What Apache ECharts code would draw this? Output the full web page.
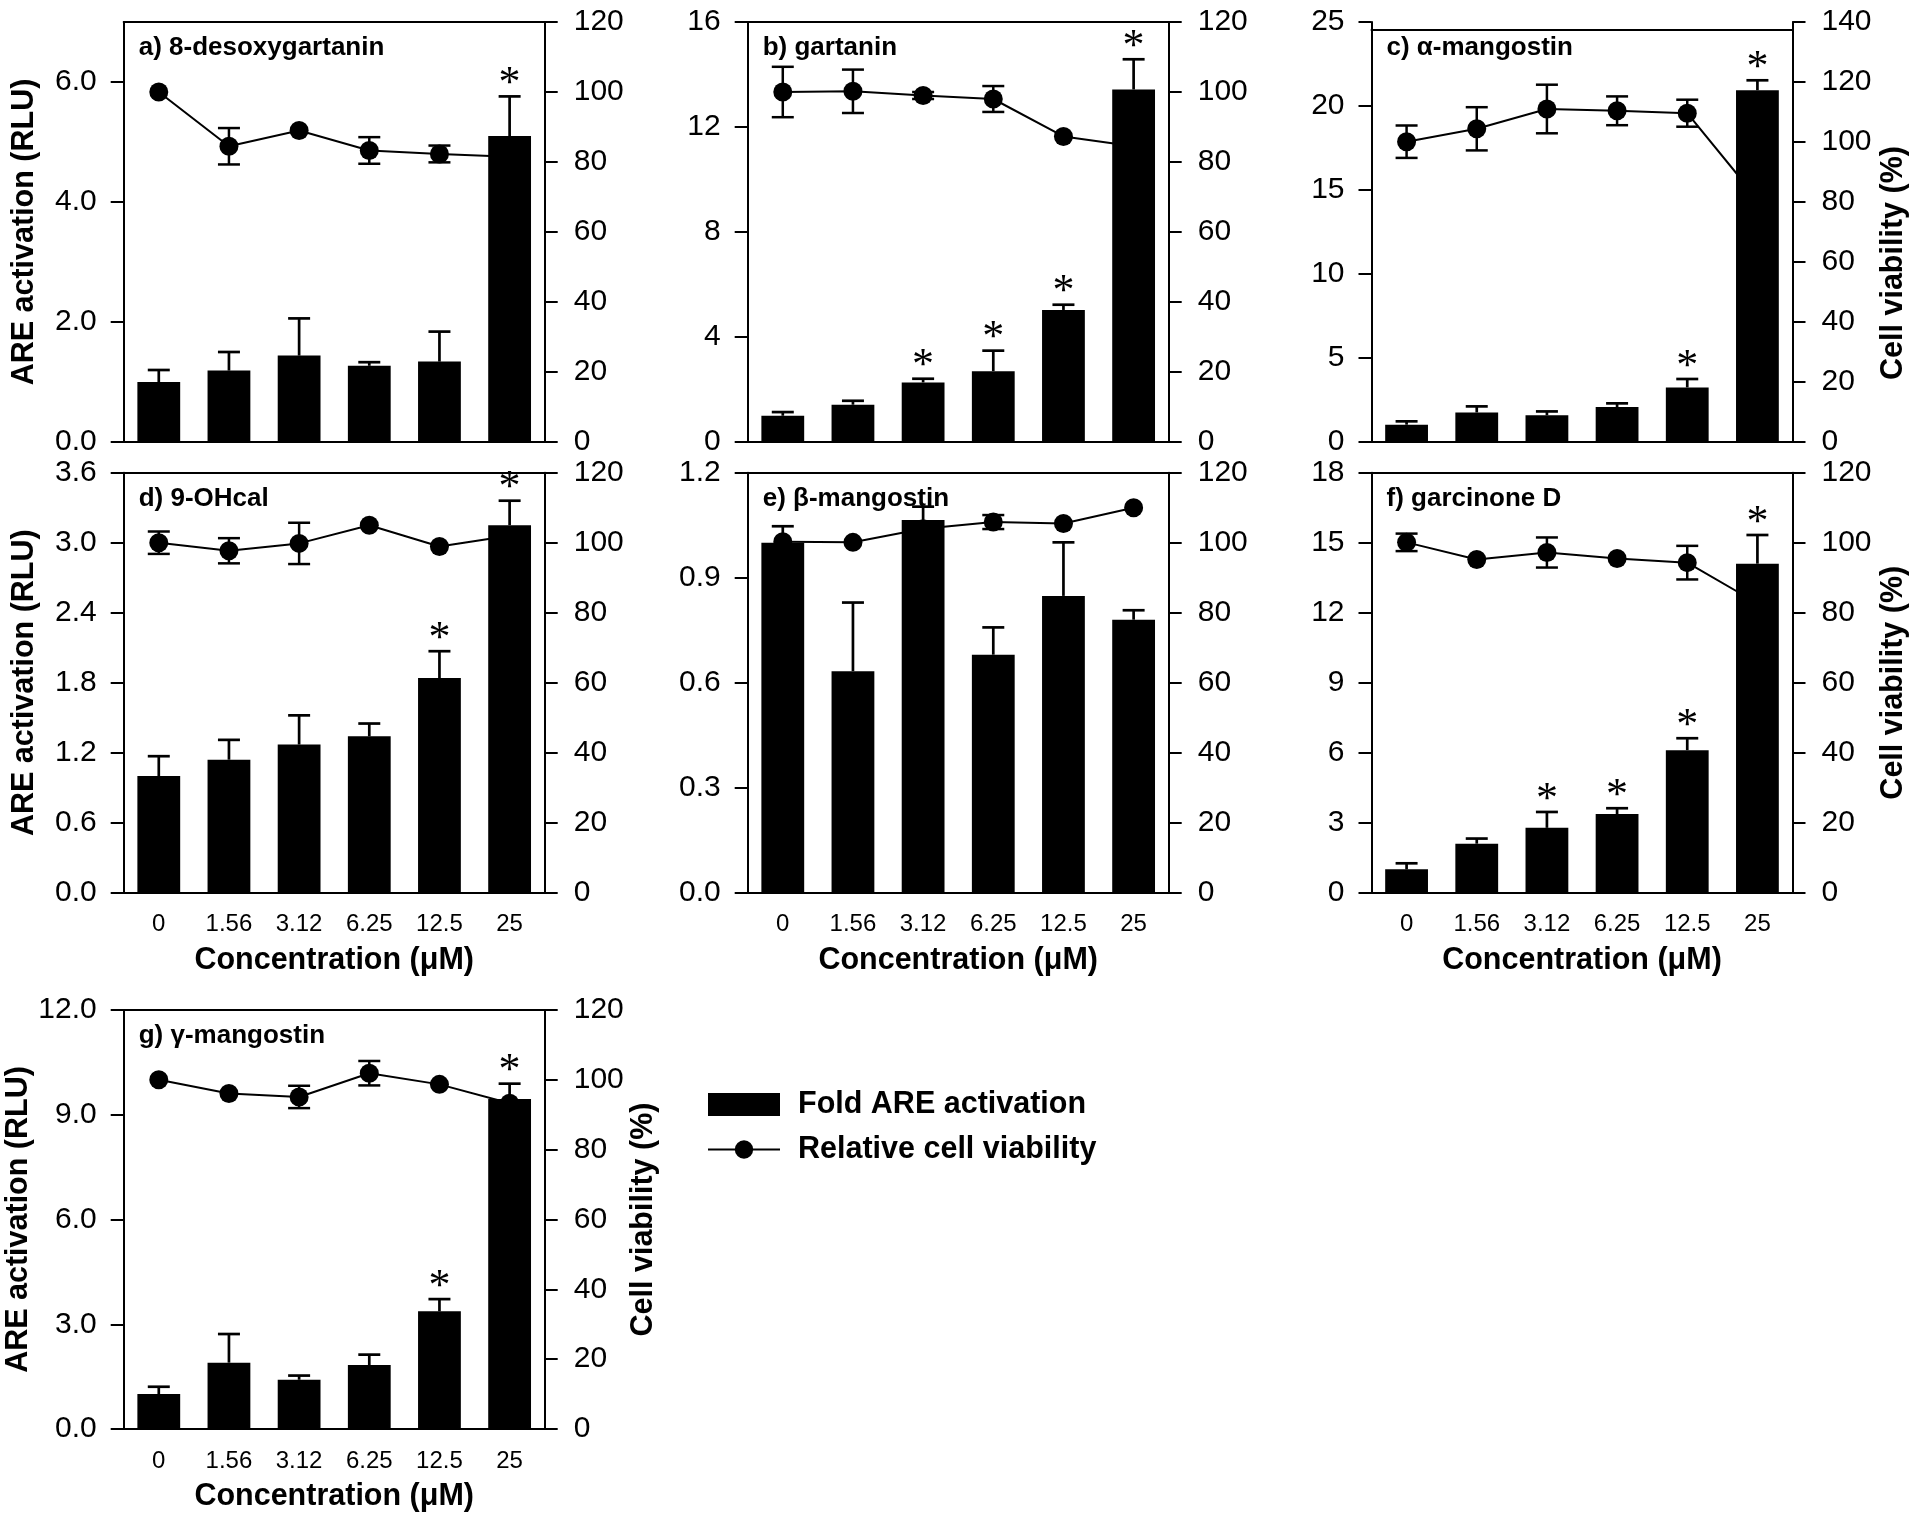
<!DOCTYPE html>
<html>
<head>
<meta charset="utf-8">
<script src="https://cdn.jsdelivr.net/npm/echarts@6/dist/echarts.min.js"></script>
<style>
  html, body { margin: 0; padding: 0; background: #fff; }
  #chart { width: 1920px; height: 1513px; }
</style>
</head>
<body>
<div id="chart"></div>
<script>
const concentrations = ['0', '1.56', '3.12', '6.25', '12.5', '25']
const viabilityTicks = [0, 20, 40, 60, 80, 100, 120]
const viabilityTicksWide = [0, 20, 40, 60, 80, 100, 120, 140]

// a) 8-desoxygartanin
const aTicks = [0, 2, 4, 6]
const aActivation = [1.0, 1.19, 1.44, 1.27, 1.34, 5.1]
const aActivationErr = [0.2, 0.31, 0.62, 0.06, 0.5, 0.66]
const aStars = [0, 0, 0, 0, 0, 1]
const aViability = [100, 84.5, 89.0, 83.3, 82.3, 81.5]
const aViabilityErr = [0, 5.2, 0, 3.8, 2.4, 0]

// b) gartanin
const bTicks = [0, 4, 8, 12, 16]
const bActivation = [1.0, 1.42, 2.27, 2.7, 5.03, 13.43]
const bActivationErr = [0.14, 0.15, 0.14, 0.78, 0.2, 1.15]
const bStars = [0, 0, 1, 1, 1, 1]
const bViability = [100, 100.2, 99.0, 98.0, 87.3, 84.5]
const bViabilityErr = [7.2, 6.2, 1, 3.7, 0, 0]

// c) α-mangostin
const cTicks = [0, 5, 10, 15, 20, 25]
const cActivation = [1.03, 1.76, 1.59, 2.08, 3.25, 20.94]
const cActivationErr = [0.2, 0.36, 0.23, 0.22, 0.5, 0.59]
const cStars = [0, 0, 0, 0, 1, 1]
const cViability = [100.1, 104.4, 111.0, 110.4, 109.6, 81]
const cViabilityErr = [5.4, 7.2, 8.1, 4.8, 4.5, 0]

// d) 9-OHcal
const dTicks = [0, 0.6, 1.2, 1.8, 2.4, 3.0, 3.6]
const dActivation = [1.0, 1.14, 1.27, 1.34, 1.84, 3.15]
const dActivationErr = [0.17, 0.17, 0.25, 0.11, 0.23, 0.21]
const dStars = [0, 0, 0, 0, 1, 1]
const dViability = [100, 97.7, 99.8, 105, 98.9, 102]
const dViabilityErr = [3.2, 3.6, 5.9, 0, 0, 0]

// e) β-mangostin
const eTicks = [0, 0.3, 0.6, 0.9, 1.2]
const eActivation = [1.0, 0.633, 1.065, 0.68, 0.848, 0.78]
const eActivationErr = [0.047, 0.196, 0.038, 0.078, 0.153, 0.027]
const eStars = [0, 0, 0, 0, 0, 0]
const eViability = [100.3, 100.1, 104, 105.9, 105.5, 110]
const eViabilityErr = [0, 0, 0, 2, 0, 0]

// f) garcinone D
const fTicks = [0, 3, 6, 9, 12, 15, 18]
const fActivation = [1.0, 2.1, 2.78, 3.37, 6.11, 14.1]
const fActivationErr = [0.26, 0.22, 0.68, 0.25, 0.51, 1.23]
const fStars = [0, 0, 1, 1, 1, 1]
const fViability = [100.1, 95.2, 97.2, 95.5, 94.3, 82.7]
const fViabilityErr = [2.5, 0, 4.3, 0, 4.8, 0]

// g) γ-mangostin
const gTicks = [0, 3, 6, 9, 12]
const gActivation = [1.0, 1.9, 1.41, 1.83, 3.37, 9.45]
const gActivationErr = [0.21, 0.82, 0.12, 0.3, 0.35, 0.44]
const gStars = [0, 0, 0, 0, 1, 1]
const gViability = [100, 96.1, 95.1, 101.9, 98.7, 93.3]
const gViabilityErr = [0, 0, 3.2, 3.5, 0, 0]

const FONT = '"Liberation Sans", Arial, Helvetica, sans-serif'
const BLACK = '#000'
const ACT_NAME = 'Fold ARE activation'
const VIA_NAME = 'Relative cell viability'

const panels = [
  { title: 'a) 8-desoxygartanin', left: 123.7, top: 22, leftMax: 7, leftTicks: aTicks, digits: 1, rightTicks: viabilityTicks,
    act: aActivation, actErr: aActivationErr, stars: aStars, via: aViability, viaErr: aViabilityErr, leftName: true },
  { title: 'b) gartanin', left: 747.7, top: 22, leftMax: 16, leftTicks: bTicks, digits: 0, rightTicks: viabilityTicks,
    act: bActivation, actErr: bActivationErr, stars: bStars, via: bViability, viaErr: bViabilityErr },
  { title: 'c) α-mangostin', left: 1371.5, top: 22, leftMax: 25, leftTicks: cTicks, digits: 0, rightTicks: viabilityTicksWide,
    act: cActivation, actErr: cActivationErr, stars: cStars, via: cViability, viaErr: cViabilityErr, rightName: true, frameDrop: 7.7, nameShift: 62 },
  { title: 'd) 9-OHcal', left: 123.7, top: 472.7, leftMax: 3.6, leftTicks: dTicks, digits: 1, rightTicks: viabilityTicks,
    act: dActivation, actErr: dActivationErr, stars: dStars, via: dViability, viaErr: dViabilityErr, leftName: true, xLabels: true },
  { title: 'e) β-mangostin', left: 747.7, top: 472.7, leftMax: 1.2, leftTicks: eTicks, digits: 1, rightTicks: viabilityTicks,
    act: eActivation, actErr: eActivationErr, stars: eStars, via: eViability, viaErr: eViabilityErr, xLabels: true },
  { title: 'f) garcinone D', left: 1371.5, top: 472.7, leftMax: 18, leftTicks: fTicks, digits: 0, rightTicks: viabilityTicks,
    act: fActivation, actErr: fActivationErr, stars: fStars, via: fViability, viaErr: fViabilityErr, rightName: true, xLabels: true },
  { title: 'g) γ-mangostin', left: 123.7, top: 1010, leftMax: 12, leftTicks: gTicks, digits: 1, rightTicks: viabilityTicks,
    act: gActivation, actErr: gActivationErr, stars: gStars, via: gViability, viaErr: gViabilityErr, leftName: true, rightName: true,
    rightGap: 72, xLabels: true }
]

const W = 421
const H = 420

function renderActivationErr(params, api) {
  const i = api.value(0)
  const v = api.value(1)
  const e = api.value(2)
  const star = api.value(3)
  const base = api.coord([i, v])
  const tip = api.coord([i, v + e])
  const st = { stroke: BLACK, lineWidth: 2.7 }
  const children = [
    { type: 'line', shape: { x1: base[0], y1: base[1], x2: tip[0], y2: tip[1] }, style: st },
    { type: 'line', shape: { x1: tip[0] - 11, y1: tip[1], x2: tip[0] + 11, y2: tip[1] }, style: st }
  ]
  if (star) {
    children.push({
      type: 'text',
      style: { text: '*', x: tip[0], y: tip[1] - 12, align: 'center', verticalAlign: 'middle',
        fontSize: 44, fontFamily: '"Liberation Serif", "Times New Roman", serif', fill: BLACK }
    })
  }
  return { type: 'group', children }
}

function renderViabilityErr(params, api) {
  const i = api.value(0)
  const v = api.value(1)
  const e = api.value(2)
  if (!e) return { type: 'group', children: [] }
  const hi = api.coord([i, v + e])
  const lo = api.coord([i, v - e])
  const st = { stroke: BLACK, lineWidth: 2.5 }
  return {
    type: 'group',
    children: [
      { type: 'line', shape: { x1: hi[0], y1: hi[1], x2: lo[0], y2: lo[1] }, style: st },
      { type: 'line', shape: { x1: hi[0] - 11, y1: hi[1], x2: hi[0] + 11, y2: hi[1] }, style: st },
      { type: 'line', shape: { x1: lo[0] - 11, y1: lo[1], x2: lo[0] + 11, y2: lo[1] }, style: st }
    ]
  }
}

const grid = []
const xAxis = []
const yAxis = []
const series = []
const title = []
const axisLine = { show: true, onZero: false, lineStyle: { color: BLACK, width: 2 } }

panels.forEach((p, k) => {
  grid.push({ left: p.left, top: p.top, width: W, height: H })
  title.push({
    text: p.title, left: p.left + 15, top: p.top + 13, padding: 0,
    textStyle: { fontFamily: FONT, fontSize: 26, fontWeight: 'bold', color: BLACK }
  })
  // bottom axis
  xAxis.push({
    type: 'category', gridIndex: k, data: concentrations, position: 'bottom',
    axisLine, axisTick: { show: false },
    axisLabel: { show: !!p.xLabels, fontFamily: FONT, fontSize: 24, color: BLACK, margin: 20 },
    name: p.xLabels ? 'Concentration (μM)' : '', nameLocation: 'middle', nameGap: 52,
    nameTextStyle: { fontFamily: FONT, fontSize: 30.5, fontWeight: 'bold', color: BLACK }
  })
  // top frame line
  xAxis.push({
    type: 'category', gridIndex: k, data: concentrations, position: 'top', offset: -(p.frameDrop || 0),
    axisLine, axisTick: { show: false }, axisLabel: { show: false }
  })
  yAxis.push({
    type: 'value', gridIndex: k, position: 'left', min: 0, max: p.leftMax,
    axisLine, splitLine: { show: false },
    axisTick: { show: true, length: 13, lineStyle: { color: BLACK, width: 2 }, customValues: p.leftTicks },
    axisLabel: { fontFamily: FONT, fontSize: 30, color: BLACK, margin: 27, customValues: p.leftTicks,
      formatter: v => Number(v).toFixed(p.digits) },
    name: p.leftName ? 'ARE activation (RLU)' : '', nameLocation: 'middle', nameRotate: 90, nameGap: 84,
    nameTextStyle: { fontFamily: FONT, fontSize: 30.5, fontWeight: 'bold', color: BLACK }
  })
  const rMax = p.rightTicks[p.rightTicks.length - 1]
  yAxis.push({
    type: 'value', gridIndex: k, position: 'right', min: 0, max: rMax, interval: 20,
    axisLine, splitLine: { show: false },
    axisTick: { show: true, length: 13, lineStyle: { color: BLACK, width: 2 } },
    axisLabel: { fontFamily: FONT, fontSize: 30, color: BLACK, margin: 29 },
    name: p.rightName ? 'Cell viability (%)' : '', nameLocation: 'middle', nameRotate: 90, nameGap: p.rightGap || 86,
    nameTextStyle: { fontFamily: FONT, fontSize: 30.5, fontWeight: 'bold', color: BLACK,
      padding: p.nameShift ? [0, p.nameShift, 0, 0] : 0 }
  })
  const xi = k * 2
  const yl = k * 2
  const yr = k * 2 + 1
  series.push({
    name: ACT_NAME, type: 'bar', xAxisIndex: xi, yAxisIndex: yl, data: p.act,
    barWidth: '61%', itemStyle: { color: BLACK }, z: 2, silent: true
  })
  series.push({
    type: 'custom', xAxisIndex: xi, yAxisIndex: yl, z: 3, silent: true,
    data: concentrations.map((c, i) => [i, p.act[i], p.actErr[i], p.stars[i]]),
    encode: { x: 0, y: 1 }, renderItem: renderActivationErr
  })
  series.push({
    name: VIA_NAME, type: 'line', xAxisIndex: xi, yAxisIndex: yr, data: p.via,
    symbol: 'circle', symbolSize: 19, showSymbol: true,
    lineStyle: { color: BLACK, width: 2 }, itemStyle: { color: BLACK }, z: 2, silent: true
  })
  series.push({
    type: 'custom', xAxisIndex: xi, yAxisIndex: yr, z: 4, silent: true,
    data: concentrations.map((c, i) => [i, p.via[i], p.viaErr[i]]),
    encode: { x: 0, y: 1 }, renderItem: renderViabilityErr
  })
})

const chart = echarts.init(document.getElementById('chart'), null, { renderer: 'canvas' })
chart.setOption({
  backgroundColor: '#fff',
  animation: false,
  title,
  grid,
  xAxis,
  yAxis,
  series,
  legend: {
    orient: 'vertical', left: 707, top: 1089, padding: 0, itemWidth: 72, itemHeight: 23, itemGap: 14,
    selectedMode: false,
    textStyle: { fontFamily: FONT, fontSize: 30.5, fontWeight: 'bold', color: BLACK, padding: [0, 0, 0, 13] },
    data: [{ name: ACT_NAME, icon: 'rect' }, { name: VIA_NAME }]
  }
})
</script>
</body>
</html>
